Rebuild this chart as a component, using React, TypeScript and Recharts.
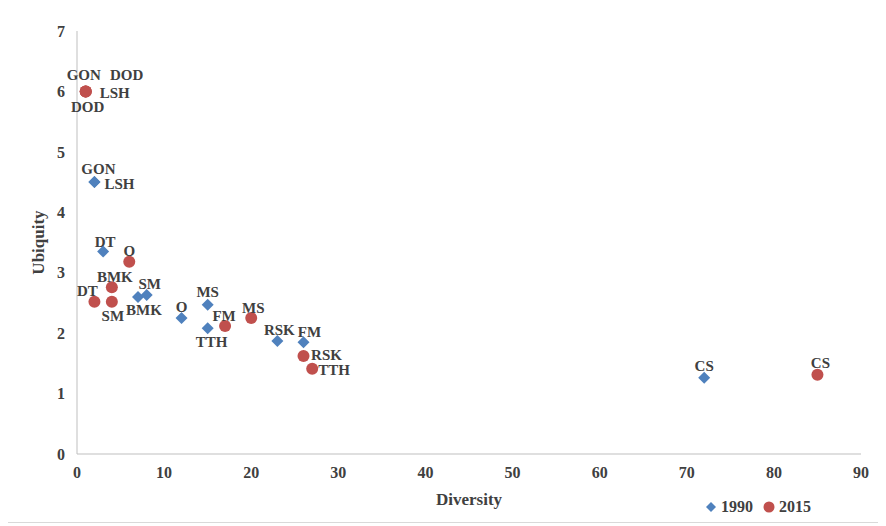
import { ScatterChart, Scatter, XAxis, YAxis } from "recharts"

// 1990 sectors
const names1990 = ["DOD", "GON", "LSH", "DT", "BMK", "SM", "O", "MS", "TTH", "RSK", "FM", "CS"]
const diversity1990 = [1, 2, 2, 3, 7, 8, 12, 15, 15, 23, 26, 72]
const ubiquity1990 = [6, 4.5, 4.5, 3.35, 2.6, 2.63, 2.25, 2.47, 2.08, 1.87, 1.85, 1.26]

// 2015 sectors
const names2015 = ["GON", "DOD", "LSH", "DT", "BMK", "SM", "O", "FM", "MS", "RSK", "TTH", "CS"]
const diversity2015 = [1, 1, 1, 2, 4, 4, 6, 17, 20, 26, 27, 85]
const ubiquity2015 = [6, 6, 6, 2.52, 2.76, 2.52, 3.18, 2.12, 2.25, 1.62, 1.41, 1.31]

const xTicks = [0, 10, 20, 30, 40, 50, 60, 70, 80, 90]
const yTicks = [0, 1, 2, 3, 4, 5, 6, 7]

// where each data label sits relative to its marker (centre offset in px)
const labelPos1990: Record<string, [number, number]> = {
  DOD: [2, 16], GON: [4, -13], LSH: [25, 2], DT: [2, -10], BMK: [6, 13], SM: [3, -11],
  O: [0, -11], MS: [0, -13], TTH: [4, 14], RSK: [2, -11], FM: [6, -10], CS: [0, -12],
}
const labelPos2015: Record<string, [number, number]> = {
  GON: [-2, -16], DOD: [41, -16], LSH: [29, 2], DT: [-7, -11], BMK: [3, -10], SM: [1, 14],
  O: [0, -11], FM: [-1, -10], MS: [2, -10], RSK: [23, -1], TTH: [22, 1], CS: [3, -12],
}

const BLUE = "#4F81BD"
const RED = "#C0504D"
const TEXT = "#404040"
const FONT = "Liberation Serif, DejaVu Serif, serif"

const toPoints = (names: string[], xs: number[], ys: number[]) =>
  names.map((name, i) => ({ name, x: xs[i], y: ys[i] }))

const data1990 = toPoints(names1990, diversity1990, ubiquity1990)
const data2015 = toPoints(names2015, diversity2015, ubiquity2015)

function PointLabel({ cx, cy, name, pos }: { cx: number; cy: number; name: string; pos: Record<string, [number, number]> }) {
  const [dx, dy] = pos[name] ?? [0, -12]
  return (
    <text
      x={cx + dx}
      y={cy + dy}
      textAnchor="middle"
      dominantBaseline="central"
      style={{ fontFamily: FONT, fontWeight: "bold", fontSize: 15 }}
      fill={TEXT}
    >
      {name}
    </text>
  )
}

const diamondShape = (props: any) => {
  const { cx, cy, payload } = props
  const r = 6
  return (
    <g>
      <path d={`M${cx},${cy - r}L${cx + r},${cy}L${cx},${cy + r}L${cx - r},${cy}Z`} fill={BLUE} />
      <PointLabel cx={cx} cy={cy} name={payload.name} pos={labelPos1990} />
    </g>
  )
}

const circleShape = (props: any) => {
  const { cx, cy, payload } = props
  return (
    <g>
      <circle cx={cx} cy={cy} r={6} fill={RED} />
      <PointLabel cx={cx} cy={cy} name={payload.name} pos={labelPos2015} />
    </g>
  )
}

const tickStyle = { fill: TEXT, fontSize: 16, fontWeight: "bold" as const, fontFamily: FONT }

export default function App() {
  return (
    <div
      style={{
        position: "relative",
        marginLeft: -4,
        marginTop: -5,
        width: 878,
        height: 518,
        border: "1px solid #d9d9d9",
        background: "#fff",
        fontFamily: FONT,
      }}
    >
      <ScatterChart
        width={878}
        height={518}
        margin={{ top: 27, right: 22, left: 0, bottom: 0 }}
        style={{ fontFamily: FONT }}
      >
        <XAxis
          type="number"
          dataKey="x"
          domain={[0, 90]}
          ticks={xTicks}
          tickLine={false}
          tickSize={0}
          tickMargin={13}
          height={68}
          axisLine={{ stroke: "#BFBFBF" }}
          tick={tickStyle}
          label={{
            value: "Diversity",
            position: "insideBottom",
            offset: 17,
            style: { fill: TEXT, fontSize: 17, fontWeight: "bold", fontFamily: FONT },
          }}
        />
        <YAxis
          type="number"
          dataKey="y"
          domain={[0, 7]}
          ticks={yTicks}
          tickLine={false}
          tickSize={0}
          tickMargin={12}
          width={72}
          axisLine={{ stroke: "#BFBFBF" }}
          tick={tickStyle}
          label={{
            value: "Ubiquity",
            angle: -90,
            position: "insideLeft",
            offset: 33,
            style: { textAnchor: "middle", fill: TEXT, fontSize: 17, fontWeight: "bold", fontFamily: FONT },
          }}
        />
        <Scatter name="1990" data={data1990} shape={diamondShape} isAnimationActive={false} />
        <Scatter name="2015" data={data2015} shape={circleShape} isAnimationActive={false} />
      </ScatterChart>
      <div
        style={{
          position: "absolute",
          left: 700,
          top: 494,
          display: "flex",
          alignItems: "center",
          gap: 4,
          fontSize: 16,
          fontWeight: "bold",
          color: TEXT,
        }}
      >
        <svg width={12} height={12}>
          <path d="M6,1L11,6L6,11L1,6Z" fill={BLUE} />
        </svg>
        <span style={{ marginRight: 6 }}>1990</span>
        <svg width={12} height={12}>
          <circle cx={6} cy={6} r={5.5} fill={RED} />
        </svg>
        <span>2015</span>
      </div>
    </div>
  )
}
